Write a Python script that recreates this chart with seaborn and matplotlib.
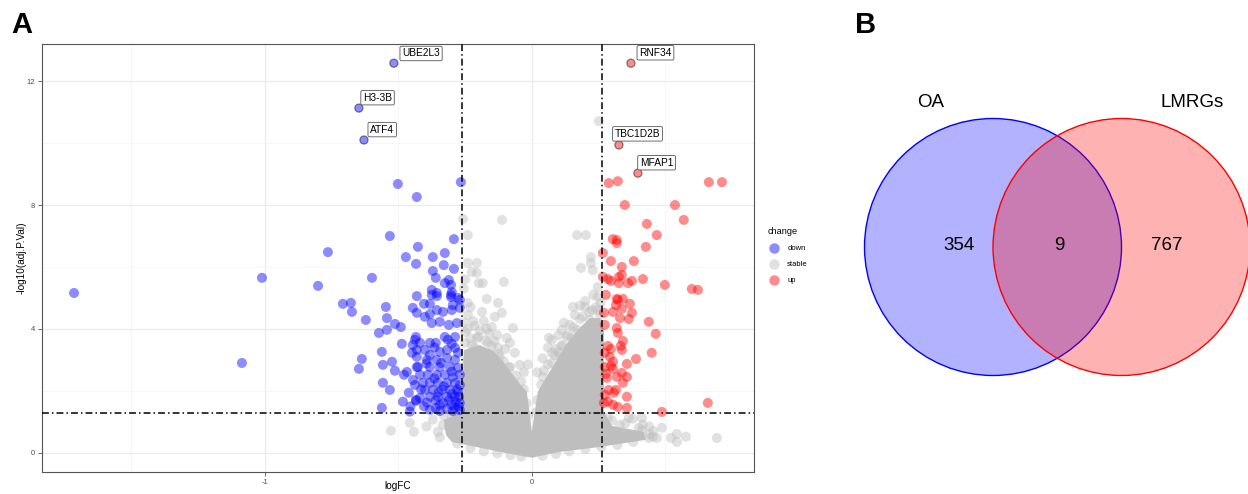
import pandas as pd
import matplotlib.pyplot as plt
import seaborn as sns
from matplotlib.patches import Circle
from matplotlib.lines import Line2D

# ---- volcano data (logFC, -log10 adj.P) ----
down_logfc = [-1.715, -1.086, -1.011, -0.764, -0.801, -0.599, -0.532, -0.502, -0.431, -0.266,
              -0.292, -0.472, -0.434, -0.427, -0.371, -0.326, -0.330, -0.292, -0.371, -0.360,
              -0.311, -0.326, -0.303, -0.300, -0.375, -0.356, -0.303, -0.277, -0.431, -0.708,
              -0.678, -0.674, -0.622, -0.547, -0.543, -0.513, -0.491, -0.573, -0.543, -0.487,
              -0.562, -0.637, -0.648, -0.558, -0.524, -0.513, -0.468, -0.479, -0.558, -0.532,
              -0.483, -0.562, -0.457, -0.434, -0.438, -0.438, -0.446, -0.431, -0.401, -0.382,
              -0.356, -0.333, -0.300, -0.270, -0.375, -0.345, -0.311, -0.281, -0.375, -0.356,
              -0.303, -0.404, -0.382, -0.296, -0.270, -0.434, -0.419, -0.446, -0.382, -0.360,
              -0.326, -0.315, -0.288, -0.431, -0.401, -0.382, -0.345, -0.318, -0.288, -0.277,
              -0.449, -0.431, -0.393, -0.356, -0.318, -0.288, -0.427, -0.382, -0.345, -0.307,
              -0.277, -0.419, -0.390, -0.356, -0.326, -0.296, -0.270, -0.408, -0.382, -0.352,
              -0.318, -0.288, -0.270, -0.401, -0.371, -0.337, -0.307, -0.277, -0.382, -0.352,
              -0.318, -0.288, -0.273, -0.419, -0.333, -0.300, -0.270, -0.360, -0.382, -0.318,
              -0.288, -0.434, -0.461, -0.431, -0.404, -0.345, -0.296, -0.270, -0.393, -0.360,
              -0.300, -0.330, -0.365, -0.300, -0.340, -0.395, -0.365, -0.300, -0.280, -0.285,
              -0.275, -0.310, -0.345, -0.350, -0.415, -0.445, -0.455]
down_logp = [5.16, 2.90, 5.65, 6.48, 5.39, 5.65, 7.00, 8.68, 8.26, 8.74,
             6.90, 6.32, 6.10, 6.65, 6.32, 6.45, 6.06, 5.94, 5.87, 5.65,
             5.58, 5.48, 5.42, 5.19, 5.26, 5.06, 5.03, 5.00, 5.06, 4.81,
             4.84, 4.55, 4.29, 4.71, 4.35, 4.16, 4.06, 3.87, 3.97, 3.52,
             3.26, 3.03, 2.71, 2.84, 2.94, 2.65, 2.61, 2.52, 2.26, 2.03,
             1.65, 1.45, 1.33, 1.68, 2.19, 3.65, 4.68, 4.52, 4.39, 4.48,
             4.61, 4.55, 4.61, 4.68, 4.19, 4.23, 4.13, 4.19, 5.10, 5.16,
             5.10, 4.81, 4.81, 4.77, 4.94, 3.74, 3.55, 3.48, 3.55, 3.55,
             3.74, 3.65, 3.74, 3.32, 3.32, 3.16, 3.26, 3.32, 3.39, 3.23,
             3.23, 3.10, 3.00, 3.00, 3.06, 3.00, 2.77, 2.77, 2.77, 2.77,
             2.74, 2.52, 2.52, 2.52, 2.52, 2.45, 2.52, 2.26, 2.26, 2.26,
             2.26, 2.26, 2.19, 2.03, 2.03, 2.03, 2.03, 1.97, 1.81, 1.81,
             1.81, 1.81, 1.81, 1.77, 1.61, 1.55, 1.61, 1.45, 1.39, 1.42,
             1.45, 1.71, 1.94, 2.77, 1.50, 1.35, 1.35, 1.38, 1.62, 1.70,
             1.90, 2.15, 2.40, 2.62, 2.90, 2.88, 3.40, 3.52, 2.05, 1.65,
             1.50, 1.70, 1.55, 1.95, 2.05, 2.35, 1.50]

up_logfc = [0.288, 0.322, 0.663, 0.712, 0.348, 0.536, 0.431, 0.569, 0.468, 0.303,
            0.318, 0.318, 0.427, 0.266, 0.296, 0.382, 0.337, 0.266, 0.285, 0.296,
            0.326, 0.337, 0.326, 0.360, 0.375, 0.416, 0.498, 0.599, 0.622, 0.277,
            0.318, 0.341, 0.322, 0.367, 0.315, 0.304, 0.337, 0.375, 0.270, 0.330,
            0.363, 0.438, 0.273, 0.318, 0.322, 0.464, 0.341, 0.285, 0.333, 0.296,
            0.337, 0.449, 0.390, 0.273, 0.292, 0.304, 0.273, 0.296, 0.304, 0.277,
            0.356, 0.337, 0.356, 0.281, 0.318, 0.341, 0.288, 0.307, 0.273, 0.356,
            0.315, 0.270, 0.285, 0.304, 0.322, 0.356, 0.659, 0.487]
up_logp = [8.71, 8.77, 8.74, 8.74, 8.00, 8.00, 7.39, 7.52, 7.03, 6.90,
           6.87, 6.77, 6.65, 6.45, 6.19, 6.19, 6.00, 5.68, 5.61, 5.55,
           5.68, 5.74, 5.48, 5.48, 5.55, 5.61, 5.42, 5.29, 5.26, 5.10,
           4.97, 4.97, 4.94, 4.81, 4.77, 4.55, 4.65, 4.52, 4.52, 4.35,
           4.32, 4.23, 4.13, 4.03, 3.87, 3.84, 3.61, 3.45, 3.45, 3.35,
           3.32, 3.23, 3.03, 3.23, 3.10, 2.94, 2.77, 2.80, 2.71, 2.55,
           2.87, 2.58, 2.45, 2.42, 2.45, 2.26, 2.03, 1.94, 1.87, 1.81,
           2.03, 1.61, 1.65, 1.55, 1.48, 1.45, 1.61, 1.32]

stable_logfc = [0.251, -0.258, -0.112, -0.240, 0.169, 0.202, 0.221, 0.221, 0.184, -0.240,
                -0.206, -0.225, -0.206, -0.199, -0.184, -0.105, -0.169, -0.127, -0.240, -0.187,
                -0.139, -0.112, -0.071, -0.150, -0.094, -0.127, -0.082, -0.064, -0.045, -0.206,
                -0.225, -0.165, -0.187, -0.120, -0.082, -0.206, -0.243, 0.154, 0.199, 0.225,
                0.217, 0.180, 0.112, 0.064, 0.075, 0.116, 0.075, 0.075, 0.041, 0.142,
                0.169, 0.206, 0.247, 0.247, 0.247, 0.247, 0.228, 0.161, 0.255, 0.240,
                0.130, 0.090, 0.040, 0.020, -0.030, -0.015, 0.105, 0.180, 0.220, -0.255,
                -0.250, -0.240, -0.215, -0.180, -0.160, -0.140, -0.100, -0.230, -0.255, -0.250,
                -0.457, -0.442, -0.371, -0.352, -0.270, -0.333, -0.528, -0.300, -0.395, 0.285,
                0.330, 0.363, 0.412, 0.412, 0.487, 0.468, 0.521, 0.543, 0.543, 0.577,
                0.693, 0.453, 0.438, 0.378, 0.415, 0.440, 0.300, 0.350,
                # softer edge of the dense core
                -0.250, -0.230, -0.200, -0.175, -0.150, -0.125, -0.105, -0.085, -0.060, -0.040,
                -0.030, -0.215, -0.160, -0.120, -0.020, -0.015, 0.015, 0.020, 0.035, 0.045,
                0.060, 0.085, 0.110, 0.135, 0.155, 0.190, 0.215, 0.240, 0.258, 0.100,
                0.150, -0.280, -0.230, -0.180, -0.130, -0.080, -0.040, 0.040, 0.090, 0.140,
                0.200, 0.260, 0.320, 0.380, 0.440, 0.455, 0.400, 0.350, 0.300, -0.310,
                -0.330, -0.345, -0.300, -0.240, -0.195, -0.170, -0.130, -0.220, 0.200, 0.230,
                0.180, 0.120, 0.100, 0.060]
stable_logp = [10.71, 7.55, 7.52, 7.03, 7.03, 7.03, 6.32, 6.13, 5.97, 6.13,
               6.13, 5.84, 5.81, 5.48, 5.48, 5.52, 4.97, 4.84, 4.84, 4.55,
               4.39, 4.52, 4.03, 4.06, 3.71, 3.39, 3.55, 3.23, 2.84, 3.71,
               3.48, 3.55, 3.23, 3.10, 2.77, 2.90, 3.00, 4.71, 4.71, 4.61,
               4.29, 4.32, 3.97, 3.71, 3.65, 3.48, 3.23, 2.90, 2.45, 4.13,
               3.97, 3.97, 4.06, 5.03, 4.61, 5.35, 5.90, 4.45, 4.45, 3.80,
               3.75, 3.35, 3.05, 2.60, 2.60, 2.85, 3.10, 3.70, 3.50, 4.20,
               3.90, 4.45, 4.10, 4.25, 3.85, 3.60, 3.35, 4.70, 5.30, 5.60,
               0.97, 0.68, 1.07, 0.68, 0.48, 0.90, 0.71, 0.95, 0.85, 1.13,
               0.90, 1.13, 1.13, 0.74, 0.81, 0.48, 0.48, 0.35, 0.61, 0.52,
               0.48, 0.52, 0.48, 1.10, 0.90, 0.85, 0.65, 0.55,
               3.55, 3.70, 3.75, 3.62, 3.45, 3.20, 2.95, 2.75, 2.50, 2.30,
               2.05, 3.40, 3.20, 2.85, 1.60, 1.20, 1.30, 1.70, 2.20, 2.65,
               2.85, 3.15, 3.45, 3.80, 4.05, 4.40, 4.55, 4.70, 4.85, 3.25,
               3.70, 0.30, 0.15, 0.05, -0.02, -0.08, -0.12, -0.10, -0.04, 0.05,
               0.12, 0.18, 0.25, 0.35, 0.60, 0.70, 0.80, 0.95, 1.05, 0.80,
               1.20, 0.50, 1.20, 4.00, 3.95, 4.00, 3.80, 4.25, 4.90, 5.10,
               4.75, 4.20, 3.80, 3.40]

# outline of the saturated grey core (thousands of overlapping stable genes)
core_logfc = [-0.322, -0.330, -0.262, -0.255, -0.195, -0.139, -0.090, -0.045, -0.019, 0.0,
              0.022, 0.052, 0.090, 0.127, 0.172, 0.217, 0.255, 0.270, 0.270, 0.300,
              0.360, 0.419, 0.427, 0.330, 0.255, 0.105, 0.0, -0.120, -0.232, -0.300]
core_logp = [0.58, 1.06, 1.32, 3.32, 3.48, 3.26, 2.74, 2.23, 1.97, 0.68,
             1.97, 2.42, 2.94, 3.48, 3.97, 4.35, 4.35, 3.97, 1.32, 0.87,
             0.77, 0.68, 0.42, 0.29, 0.19, 0.03, -0.16, 0.03, 0.23, 0.35]

label_genes = ['UBE2L3', 'H3-3B', 'ATF4', 'RNF34', 'TBC1D2B', 'MFAP1']
label_logfc = [-0.517, -0.648, -0.629, 0.371, 0.326, 0.397]
label_logp = [12.58, 11.13, 10.10, 12.58, 9.94, 9.03]
label_change = ['down', 'down', 'down', 'up', 'up', 'up']

# ---- venn data ----
venn_sets = ['OA', 'LMRGs']
venn_counts = [354, 9, 767]  # OA only, shared, LMRGs only

df = pd.DataFrame({
    'logFC': stable_logfc + down_logfc + up_logfc,
    'logP': stable_logp + down_logp + up_logp,
    'change': ['stable'] * len(stable_logfc) + ['down'] * len(down_logfc) + ['up'] * len(up_logfc),
})
labels_df = pd.DataFrame({'gene': label_genes, 'logFC': label_logfc,
                          'logP': label_logp, 'change': label_change})

sns.set_theme(style="white")
plt.rcParams['font.family'] = ['Liberation Sans', 'DejaVu Sans']
plt.rcParams['axes.unicode_minus'] = False
plt.rcParams['text.color'] = 'black'
plt.rcParams['axes.labelcolor'] = 'black'

PALETTE = {'down': '#0000FF', 'stable': '#BEBEBE', 'up': '#FF0000'}
FC_CUT = 0.263
P_CUT = 1.301

fig = plt.figure(figsize=(12.48, 4.94), dpi=100)
ax = fig.add_axes([42 / 1248, 22 / 494, 712 / 1248, 428 / 494])

ax.fill(core_logfc, core_logp, color='#BEBEBE', lw=0)
sns.scatterplot(data=df, x='logFC', y='logP', hue='change', palette=PALETTE,
                alpha=0.45, s=52, edgecolor='none', legend=False, ax=ax)
sns.scatterplot(data=labels_df, x='logFC', y='logP', hue='change', palette=PALETTE,
                alpha=0.45, s=34, edgecolor='black', linewidth=0.9, legend=False, ax=ax)

offsets = [(6, 7), (3, 7.5), (4.5, 7.5), (6, 7.5), (-3, 8), (1.5, 7.5)]
for g, x, y, off in zip(label_genes, label_logfc, label_logp, offsets):
    ax.annotate(g, (x, y), xytext=off, textcoords='offset points', ha='left', va='center',
                fontsize=7.3, color='black', zorder=5,
                bbox=dict(boxstyle='round,pad=0.22,rounding_size=0.15', fc='white', ec='#555555', lw=0.6))

for xv in (-FC_CUT, FC_CUT):
    ax.axvline(xv, color='black', lw=1.1, dashes=(4.5, 2, 1, 2), zorder=3)
ax.axhline(P_CUT, color='black', lw=1.1, dashes=(4.5, 2, 1, 2), zorder=3)

ax.set_xlim(-1.835, 0.832)
ax.set_ylim(-0.62, 13.2)
ax.set_xticks([-1, 0])
ax.set_xticklabels(['-1', '0'])
ax.set_yticks([0, 4, 8, 12])
ax.set_xticks([-1.5, -0.5, 0.5], minor=True)
ax.set_yticks([2, 6, 10], minor=True)
ax.grid(True, which='major', color='#EBEBEB', lw=0.9)
ax.grid(True, which='minor', color='#F3F3F3', lw=0.5)
ax.set_axisbelow(True)
ax.tick_params(which='major', direction='out', length=3, width=0.6, color='#555555',
               labelsize=5.5, labelcolor='#4D4D4D', pad=2, left=True, bottom=True)
ax.tick_params(which='minor', length=0)
for sp in ax.spines.values():
    sp.set_color('#555555')
    sp.set_linewidth(0.8)
ax.set_xlabel('logFC', fontsize=7.2)
ax.xaxis.set_label_coords(0.5, -0.022)
ax.set_ylabel('-log10(adj.P.Val)', fontsize=7.2, labelpad=0)

handles = [Line2D([], [], ls='none', marker='o', markersize=7.5, markeredgewidth=0,
                  markerfacecolor=PALETTE[k], alpha=0.45) for k in ['down', 'stable', 'up']]
fig.legend(handles, ['down', 'stable', 'up'], title='change', loc='upper left',
           bbox_to_anchor=(765 / 1248, 1 - 224 / 494), frameon=False, fontsize=5.5,
           title_fontsize=6.6, labelspacing=1.15, handletextpad=0.9, handlelength=1.6,
           alignment='left', borderaxespad=0)

# ---- venn ----
ax2 = fig.add_axes([840 / 1248, 0, 408 / 1248, 1])
ax2.set_xlim(840, 1248)
ax2.set_ylim(494, 0)
ax2.axis('off')
ax2.add_patch(Circle((993, 247), 128.5, fc=(0, 0, 1, 0.3), ec='#0000FF', lw=1.0))
ax2.add_patch(Circle((1121.5, 247), 128.5, fc=(1, 0, 0, 0.3), ec='#FF0000', lw=1.0))
ax2.text(931, 102, venn_sets[0], fontsize=13.5, ha='center', va='center')
ax2.text(1192, 102, venn_sets[1], fontsize=13.5, ha='center', va='center')
for xv, n in zip([959, 1059, 1167], venn_counts):
    ax2.text(xv, 245, str(n), fontsize=13.5, ha='center', va='center')

fig.text(22 / 1248, 1 - 25 / 494, 'A', fontsize=21, fontweight='bold', ha='center', va='center')
fig.text(866 / 1248, 1 - 25 / 494, 'B', fontsize=21, fontweight='bold', ha='center', va='center')

fig.savefig('out.png', dpi=100)
plt.close()
